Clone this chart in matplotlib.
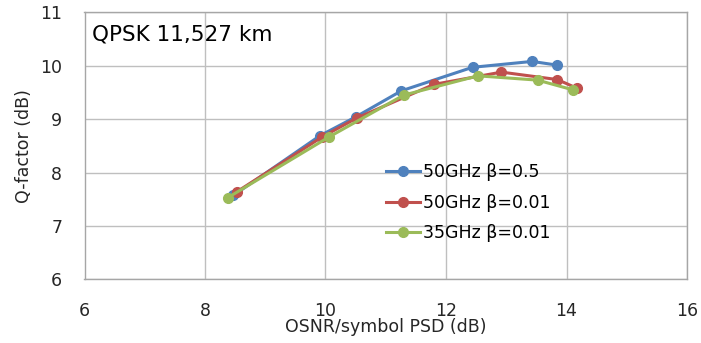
import matplotlib
matplotlib.use("Agg")
import matplotlib.pyplot as plt

plt.rcParams['font.family'] = ['DejaVu Sans']

# OSNR per symbol PSD (dB) and Q-factor (dB) for each configuration
x_50_05 = [8.47, 9.91, 10.50, 11.26, 12.44, 13.43, 13.85]
q_50_05 = [7.57, 8.69, 9.04, 9.53, 9.97, 10.08, 10.01]

x_50_001 = [8.53, 9.95, 10.52, 11.80, 12.92, 13.85, 14.17]
q_50_001 = [7.64, 8.67, 9.02, 9.65, 9.88, 9.74, 9.58]

x_35_001 = [8.38, 10.05, 11.30, 12.53, 13.52, 14.10]
q_35_001 = [7.53, 8.66, 9.45, 9.81, 9.73, 9.55]

labels = ["50GHz β=0.5", "50GHz β=0.01", "35GHz β=0.01"]
colors = ["#4F81BD", "#C0504D", "#9BBB59"]

x_ticks = [6, 8, 10, 12, 14, 16]
y_ticks = [6, 7, 8, 9, 10, 11]

fig = plt.figure(figsize=(7.01, 3.43), dpi=100)
ax = fig.add_axes([84.5 / 701, 1 - 279.3 / 343, 602.5 / 701, 267.0 / 343])

for xs, qs, lab, c in zip([x_50_05, x_50_001, x_35_001],
                          [q_50_05, q_50_001, q_35_001], labels, colors):
    ax.plot(xs, qs, color=c, lw=2.2, marker='o', ms=7, label=lab)

ax.set_xlim(6, 16)
ax.set_ylim(6, 11)
ax.set_xticks(x_ticks)
ax.set_yticks(y_ticks)
ax.grid(True, color="#BFBFBF", lw=1.0)
ax.set_axisbelow(True)
for s in ax.spines.values():
    s.set_color("#A6A6A6")
    s.set_linewidth(1.0)
ax.tick_params(length=0, labelsize=12.5, colors="#262626")
ax.tick_params(axis='x', pad=16)
ax.tick_params(axis='y', pad=16)

ax.set_xlabel("OSNR/symbol PSD (dB)", fontsize=12.5, color="#262626", labelpad=-1)
ax.set_ylabel("Q-factor (dB)", fontsize=12.5, color="#262626", labelpad=5)

ax.text(6.12, 10.58, "QPSK 11,527 km", fontsize=15.5, color="#000000",
        ha='left', va='center')

ax.legend(loc='upper left', bbox_to_anchor=(0.50, 0.434), frameon=False,
          fontsize=12.5, handlelength=1.95, handletextpad=0.2, labelspacing=0.72,
          borderaxespad=0, borderpad=0)

fig.savefig("out.png", dpi=100)
